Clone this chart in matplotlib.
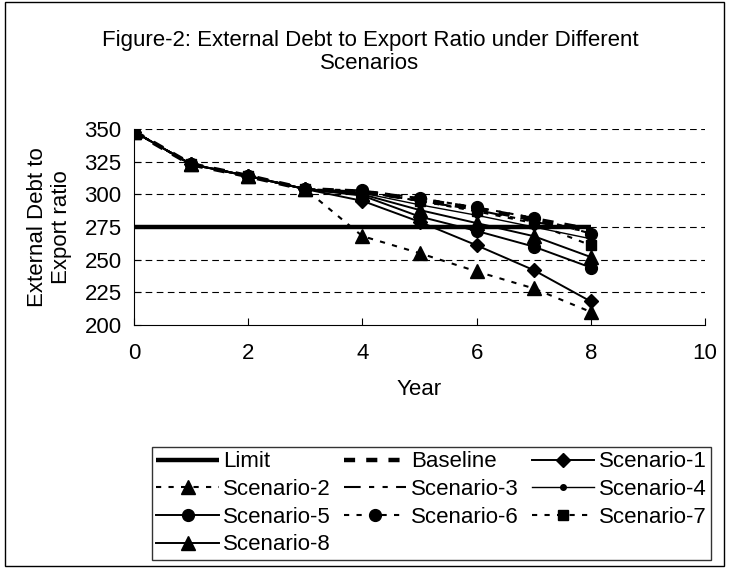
import matplotlib
matplotlib.use('Agg')
import matplotlib.pyplot as plt
from matplotlib.patches import Rectangle

plt.rcParams['font.family'] = ['Liberation Sans', 'DejaVu Sans']

years = [0, 1, 2, 3, 4, 5, 6, 7, 8]
limit = [275, 275, 275, 275, 275, 275, 275, 275, 275]
baseline = [348, 323, 314, 304, 302, 296, 289, 281, 273]
scenario1 = [348, 323, 314, 304, 295, 279, 261, 242, 218]
scenario2 = [348, 323, 314, 304, 268, 255, 241, 228, 210]
scenario3 = [348, 323, 314, 304, 302, 295, 288, 279, 271]
scenario4 = [348, 323, 314, 304, 301, 292, 284, 275, 266]
scenario5 = [348, 323, 314, 304, 299, 283, 272, 260, 244]
scenario6 = [348, 323, 314, 304, 303, 297, 290, 282, 270]
scenario7 = [348, 323, 314, 304, 302, 295, 287, 278, 261]
scenario8 = [348, 323, 314, 304, 300, 288, 278, 268, 252]

y_ticks = [200, 225, 250, 275, 300, 325, 350]
x_ticks = [0, 2, 4, 6, 8, 10]

FS = 16
W, H = 731, 578
fig = plt.figure(figsize=(W / 100, H / 100), dpi=100)
fig.patches.append(Rectangle((5 / W, 1 - 566 / H), 719 / W, 564 / H, transform=fig.transFigure,
                             fill=False, edgecolor='black', linewidth=1.0))

ax = fig.add_axes([134 / W, 1 - 325 / H, 571 / W, 196 / H])
k = 'black'
dot = (0, (2.5, 3.5))
h_limit, = ax.plot(years, limit, color=k, lw=3.2, solid_capstyle='butt', label='Limit')
h_base, = ax.plot(years, baseline, color=k, lw=3.2, linestyle=(0, (2.5, 2.5)), label='Baseline')
h1, = ax.plot(years, scenario1, color=k, lw=1.4, marker='D', ms=7, label='Scenario-1')
h2, = ax.plot(years, scenario2, color=k, lw=1.5, linestyle=dot, marker='^', ms=9.5, label='Scenario-2')
h3, = ax.plot(years, scenario3, color=k, lw=1.5, linestyle=(0, (8, 4, 2.5, 4, 2.5, 4)), label='Scenario-3')
h4, = ax.plot(years, scenario4, color=k, lw=1.0, marker='o', ms=4, label='Scenario-4')
h5, = ax.plot(years, scenario5, color=k, lw=1.4, marker='o', ms=8.5, label='Scenario-5')
h6, = ax.plot(years, scenario6, color=k, lw=1.5, linestyle=dot, marker='o', ms=8.5, label='Scenario-6')
h7, = ax.plot(years, scenario7, color=k, lw=1.5, linestyle=dot, marker='s', ms=7.5, label='Scenario-7')
h8, = ax.plot(years, scenario8, color=k, lw=1.4, marker='^', ms=9.5, label='Scenario-8')

ax.set_xlim(0, 10)
ax.set_ylim(200, 350)
ax.set_xticks(x_ticks)
ax.set_yticks(y_ticks)
for v in y_ticks[1:]:
    ax.axhline(v, color=k, lw=0.8, linestyle=(0, (6, 4)), zorder=0)
for s in ['top', 'right']:
    ax.spines[s].set_visible(False)
ax.spines['left'].set_linewidth(0.8)
ax.spines['bottom'].set_linewidth(0.8)
ax.tick_params(axis='x', direction='in', length=5, width=0.8, labelsize=FS, pad=13)
ax.tick_params(axis='y', direction='in', length=5, width=0.8, labelsize=FS, pad=9)
ax.set_xlabel('Year', fontsize=FS, labelpad=11)
ax.set_ylabel('External Debt to\nExport ratio', fontsize=FS, labelpad=9, linespacing=1.15)

fig.text(370 / W, 1 - 52 / H, 'Figure-2: External Debt to Export Ratio under Different\nScenarios',
         ha='center', va='center', fontsize=FS, linespacing=1.1)

handles = [h_limit, h2, h5, h8, h_base, h3, h6, h1, h4, h7]
leg = fig.legend(handles=handles, labels=[h.get_label() for h in handles], ncol=3,
                 loc='upper left', bbox_to_anchor=(152 / W, 1 - 447 / H), fontsize=FS,
                 frameon=True, fancybox=False, edgecolor='black', handlelength=2.8,
                 handletextpad=0.2, columnspacing=0.6, labelspacing=0.3, borderpad=0.2,
                 borderaxespad=0)
leg.get_frame().set_linewidth(1.0)

fig.savefig('out.png', dpi=100)
